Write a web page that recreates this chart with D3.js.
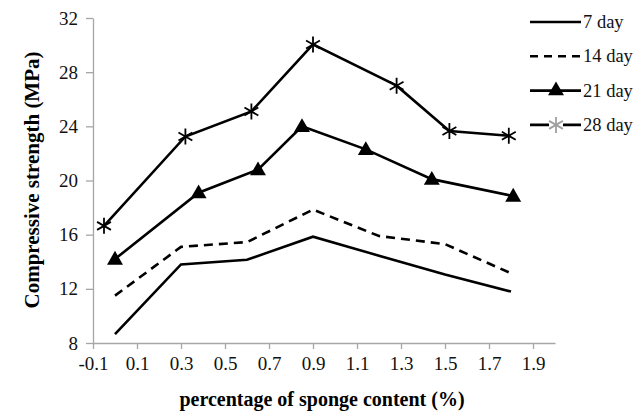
<!DOCTYPE html>
<html>
<head>
<meta charset="utf-8">
<script src="https://cdn.jsdelivr.net/npm/d3@7"></script>
<style>
  html, body { margin: 0; padding: 0; background: #fff; }
  svg { display: block; }
</style>
</head>
<body>
<svg id="chart" width="636" height="414"></svg>
<script>
// Sponge content (%) and compressive strength (MPa) per curing age
const xTicks = [-0.1, 0.1, 0.3, 0.5, 0.7, 0.9, 1.1, 1.3, 1.5, 1.7, 1.9];
const yTicks = [8, 12, 16, 20, 24, 28, 32];

const x7  = [0, 0.3, 0.6, 0.9, 1.2, 1.5, 1.8];
const y7  = [8.65, 13.8, 14.15, 15.85, 14.45, 13.05, 11.8];

const x14 = [0, 0.3, 0.6, 0.9, 1.2, 1.5, 1.8];
const y14 = [11.5, 15.1, 15.45, 17.85, 15.9, 15.3, 13.15];

const x21 = [0, 0.38, 0.65, 0.85, 1.14, 1.44, 1.81];
const y21 = [14.2, 19.1, 20.8, 24.0, 22.3, 20.1, 18.85];

const x28 = [-0.05, 0.32, 0.62, 0.9, 1.28, 1.52, 1.79];
const y28 = [16.65, 23.25, 25.1, 30.05, 27.0, 23.65, 23.3];

const seriesNames = ["7 day", "14 day", "21 day", "28 day"];

const svg = d3.select("#chart");
const font = "'Liberation Serif', 'Times New Roman', serif";

const x = d3.scaleLinear().domain([-0.1, 2.0]).range([93, 555]);
const y = d3.scaleLinear().domain([8, 32]).range([343, 18]);

// Axes
const axisColor = "#a6a6a6";
const yAxis = svg.append("g").attr("transform", `translate(${x(-0.1)},0)`)
  .call(d3.axisLeft(y).tickValues(yTicks).tickSize(7).tickSizeOuter(0).tickPadding(8));
const xAxis = svg.append("g").attr("transform", `translate(0,${y(8)})`)
  .call(d3.axisBottom(x).tickValues(xTicks).tickSize(6).tickSizeOuter(0).tickPadding(8)
    .tickFormat(d => d3.format(".1f")(d).replace("−", "-")));
[xAxis, yAxis].forEach(g => {
  g.attr("font-size", null).attr("font-family", null);
  g.select(".domain").attr("stroke", axisColor).attr("stroke-width", 1.3);
  g.selectAll(".tick line").attr("stroke", axisColor).attr("stroke-width", 1.3);
  g.selectAll(".tick text").attr("fill", "#111").style("font-family", font).style("font-size", "19px");
});

// Axis titles
svg.append("text")
  .attr("x", 322).attr("y", 406)
  .attr("text-anchor", "middle")
  .style("font-family", font).style("font-size", "20px").style("font-weight", "bold")
  .text("percentage of sponge content (%)");
svg.append("text")
  .attr("transform", `translate(39,180) rotate(-90)`)
  .attr("text-anchor", "middle")
  .style("font-family", font).style("font-size", "21px").style("font-weight", "bold")
  .text("Compressive strength (MPa)");

// Series
const line = d3.line().x(d => x(d[0])).y(d => y(d[1]));
const zip = (a, b) => a.map((v, i) => [v, b[i]]);

const series = [
  { name: seriesNames[0], pts: zip(x7, y7), dash: null, marker: null },
  { name: seriesNames[1], pts: zip(x14, y14), dash: "9,6", marker: null },
  { name: seriesNames[2], pts: zip(x21, y21), dash: null, marker: "tri" },
  { name: seriesNames[3], pts: zip(x28, y28), dash: null, marker: "star" }
];

const triPath = d3.symbol().type(d3.symbolTriangle).size(110)();
function starPath(r) {
  const a = r * Math.cos(Math.PI / 6), b = r * Math.sin(Math.PI / 6);
  return `M${-a},${-b}L${a},${b}M${-a},${b}L${a},${-b}M0,${-r}L0,${r}`;
}

function drawMarker(g, kind, cx, cy, color) {
  if (kind === "tri") {
    g.append("path").attr("d", triPath)
      .attr("transform", `translate(${cx},${cy + 1})`).attr("fill", color);
  } else if (kind === "star") {
    g.append("path").attr("d", starPath(8))
      .attr("transform", `translate(${cx},${cy})`)
      .attr("fill", "none").attr("stroke", color).attr("stroke-width", 1.8);
  }
}

series.forEach(s => {
  const g = svg.append("g");
  g.append("path").datum(s.pts)
    .attr("d", line)
    .attr("fill", "none").attr("stroke", "#000").attr("stroke-width", 2.6)
    .attr("stroke-linejoin", "miter")
    .attr("stroke-dasharray", s.dash);
  if (s.marker) s.pts.forEach(p => drawMarker(g, s.marker, x(p[0]), y(p[1]), "#000"));
});

// Legend
const legend = svg.append("g");
series.forEach((s, i) => {
  const ly = 22 + i * 34.3;
  const row = legend.append("g");
  row.append("line").attr("x1", 530).attr("x2", 581).attr("y1", ly).attr("y2", ly)
    .attr("stroke", "#000").attr("stroke-width", 2.6)
    .attr("stroke-dasharray", s.dash ? "8,6" : null);
  if (s.marker === "tri") drawMarker(row, "tri", 556, ly - 1, "#000");
  if (s.marker === "star") {
    row.append("rect").attr("x", 549).attr("y", ly - 2).attr("width", 14).attr("height", 4).attr("fill", "#fff");
    drawMarker(row, "star", 556, ly, "#a0a0a0");
  }
  row.append("text").attr("x", 583).attr("y", ly + 6)
    .style("font-family", font).style("font-size", "18.5px").attr("fill", "#111")
    .text(s.name);
});
</script>
</body>
</html>
